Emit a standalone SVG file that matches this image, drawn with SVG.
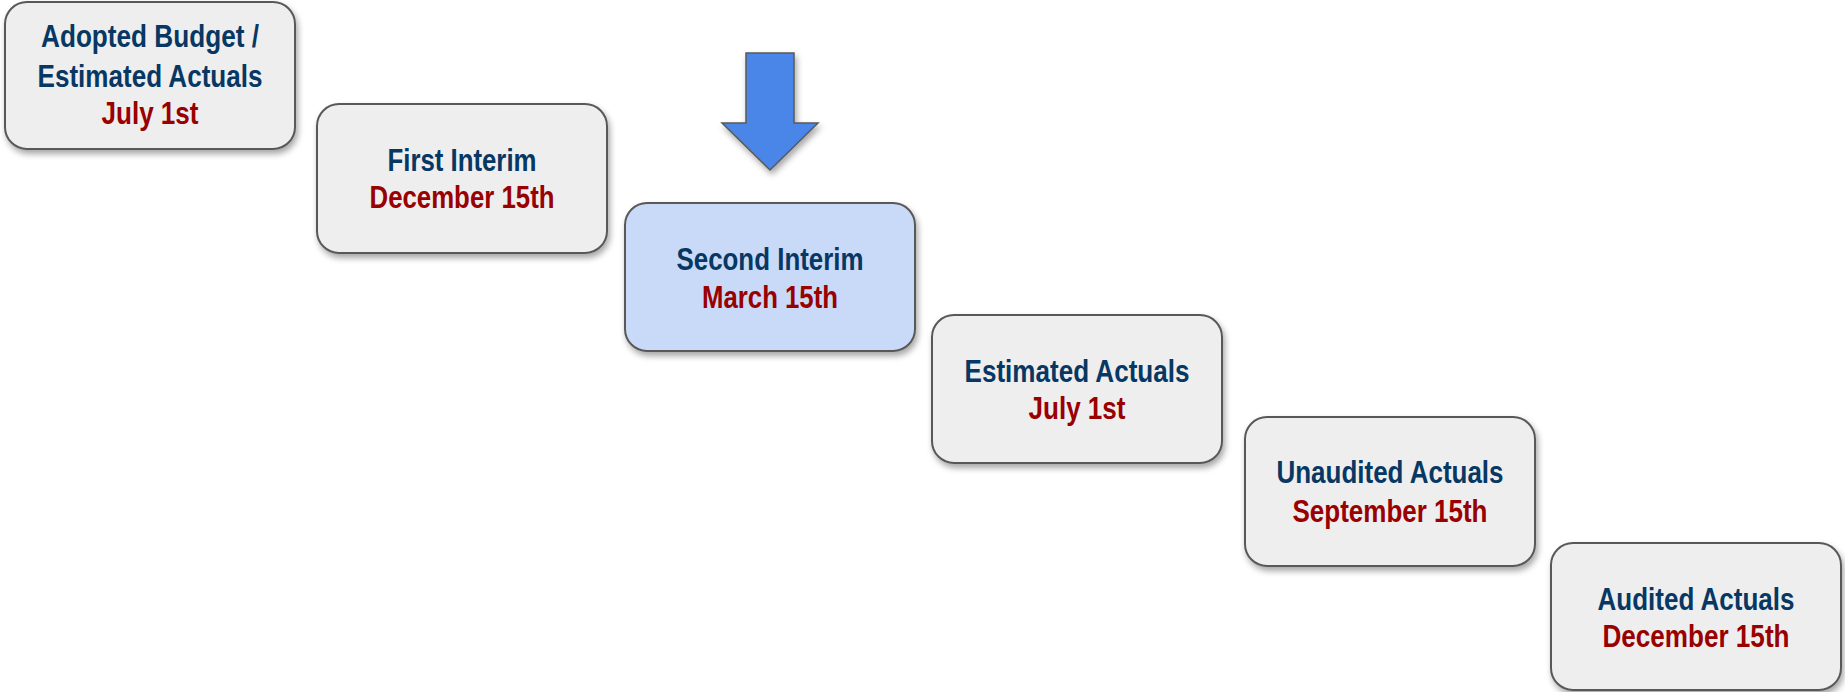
<svg xmlns="http://www.w3.org/2000/svg" width="1845" height="692" viewBox="0 0 1845 692">
<style>
.box{fill:#eeeeee;stroke:#595959;stroke-width:2;filter:url(#sh)}
.hl{fill:#c9daf8}
text{font-family:"Liberation Sans Narrow","Arial Narrow","Liberation Sans",Arial,sans-serif;font-weight:bold;font-size:30.5px;text-anchor:middle}
.t{fill:#073763}
.d{fill:#990000}
</style>
<defs>
<filter id="sh" x="-10%" y="-10%" width="125%" height="130%">
<feDropShadow dx="2" dy="4" stdDeviation="3" flood-color="#000" flood-opacity="0.35"/>
</filter>
</defs>
<g id="arrow">
<path d="M746,53 H794 V123 H818 L770,170 L722,123 H746 Z" fill="#4a86e8" stroke="#595959" stroke-width="1.5" filter="url(#sh)"/>
</g>
<g id="node1">
<rect class="box" x="5" y="2" width="290" height="147" rx="22"/>
<text class="t" x="150" y="47" textLength="218" lengthAdjust="spacingAndGlyphs">Adopted Budget /</text>
<text class="t" x="150" y="87" textLength="225" lengthAdjust="spacingAndGlyphs">Estimated Actuals</text>
<text class="d" x="150" y="124" textLength="97" lengthAdjust="spacingAndGlyphs">July 1st</text>
</g>
<g id="node2">
<rect class="box" x="317" y="104" width="290" height="149" rx="22"/>
<text class="t" x="462" y="171" textLength="149" lengthAdjust="spacingAndGlyphs">First Interim</text>
<text class="d" x="462" y="208" textLength="185" lengthAdjust="spacingAndGlyphs">December 15th</text>
</g>
<g id="node3">
<rect class="box hl" x="625" y="203" width="290" height="148" rx="22"/>
<text class="t" x="770" y="270" textLength="187" lengthAdjust="spacingAndGlyphs">Second Interim</text>
<text class="d" x="770" y="308" textLength="136" lengthAdjust="spacingAndGlyphs">March 15th</text>
</g>
<g id="node4">
<rect class="box" x="932" y="315" width="290" height="148" rx="22"/>
<text class="t" x="1077" y="382" textLength="225" lengthAdjust="spacingAndGlyphs">Estimated Actuals</text>
<text class="d" x="1077" y="419" textLength="97" lengthAdjust="spacingAndGlyphs">July 1st</text>
</g>
<g id="node5">
<rect class="box" x="1245" y="417" width="290" height="149" rx="22"/>
<text class="t" x="1390" y="483" textLength="227" lengthAdjust="spacingAndGlyphs">Unaudited Actuals</text>
<text class="d" x="1390" y="522" textLength="195" lengthAdjust="spacingAndGlyphs">September 15th</text>
</g>
<g id="node6">
<rect class="box" x="1551" y="543" width="290" height="147" rx="22"/>
<text class="t" x="1696" y="610" textLength="197" lengthAdjust="spacingAndGlyphs">Audited Actuals</text>
<text class="d" x="1696" y="647" textLength="187" lengthAdjust="spacingAndGlyphs">December 15th</text>
</g>
<g id="connectors"></g>
</svg>
